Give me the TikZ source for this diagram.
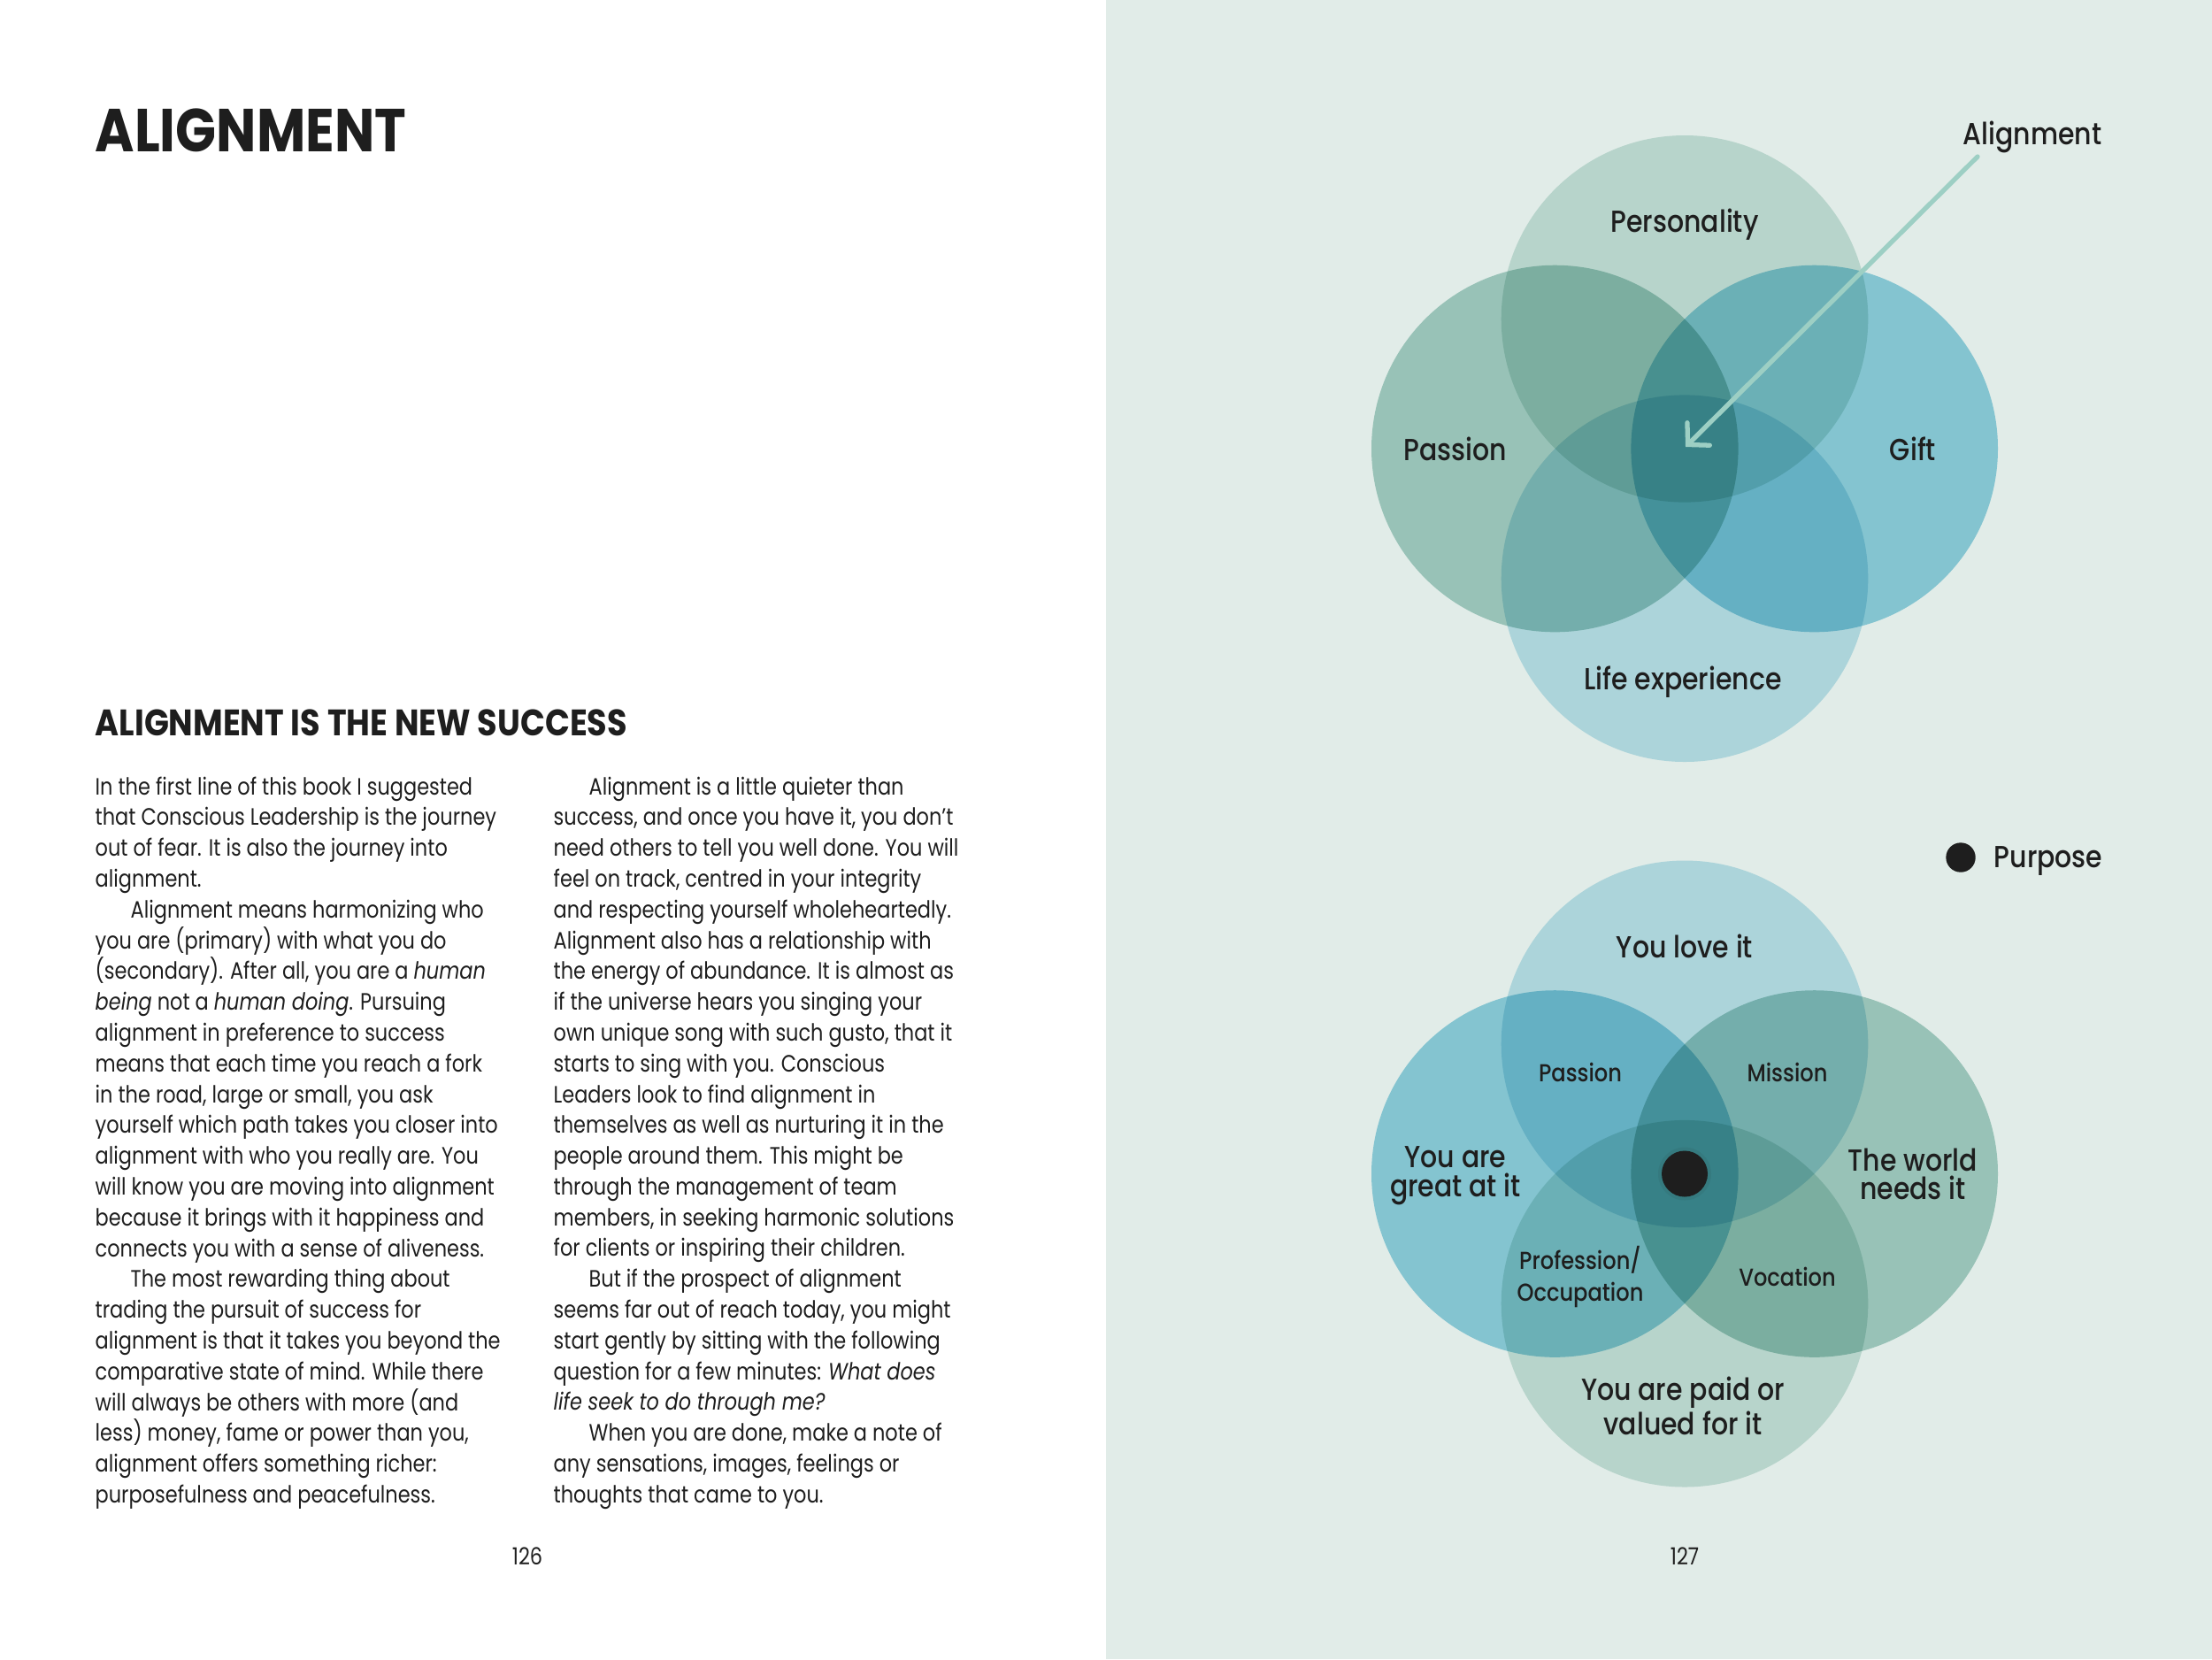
\documentclass[tikz,border=0pt]{standalone}
\usepackage{fontspec}
\setmainfont{Poppins}[FakeStretch=0.84]
\newfontfamily\headfont{Poppins}[FakeStretch=0.88]
\newfontfamily\labfont{Poppins Medium}[FakeStretch=0.87]
\usetikzlibrary{arrows.meta,calc,positioning}
\definecolor{pagebg}{HTML}{E1ECE8}
\definecolor{ink}{HTML}{1E1E1E}
\definecolor{sagelight}{HTML}{D0E6E0}
\definecolor{sage}{HTML}{ADD2CA}
\definecolor{teal}{HTML}{96D4E5}
\definecolor{skyblue}{HTML}{C4E6F0}
\definecolor{pointer}{HTML}{9DCFC4}

\begin{document}
\begin{tikzpicture}[
    y=-1cm,
    bodytext/.style={inner sep=0pt, align=left, text=ink, font=\fontsize{7.6}{9.9}\selectfont},
    label/.style={inner sep=0pt, align=center, text=ink, font=\labfont\fontsize{9.8}{9.3}\selectfont},
    smalllabel/.style={inner sep=0pt, align=center, text=ink, font=\labfont\fontsize{7.9}{10.4}\selectfont},
    ring/.style={radius=2.073cm},
    arrow/.style={-{Straight Barb[length=0.17cm, width=0.36cm, line cap=round]}, line width=1.5pt, line cap=round, draw=pointer}
]

\useasboundingbox (0,0) rectangle (25,18.75);
\fill[pagebg] (12.5,0) rectangle (25,18.75);

\node[anchor=base west, inner sep=0pt, text=ink, font=\headfont\bfseries\fontsize{19.5}{20}\selectfont] (title) at (1.07,1.71) {ALIGNMENT};
\node[anchor=base west, inner sep=0pt, text=ink, font=\headfont\bfseries\fontsize{11.85}{13}\selectfont] (subtitle) at (1.07,8.31) {ALIGNMENT IS THE NEW SUCCESS};

\node[bodytext, anchor=north west] (colone) at (1.07,8.77) {In the first line of this book I suggested\\
that Conscious Leadership is the journey\\
out of fear. It is also the journey into\\
alignment.\\
\hspace*{0.4cm}Alignment means harmonizing who\\
you are (primary) with what you do\\
(secondary). After all, you are a \textit{human}\\
\textit{being} not a \textit{human doing}. Pursuing\\
alignment in preference to success\\
means that each time you reach a fork\\
in the road, large or small, you ask\\
yourself which path takes you closer into\\
alignment with who you really are. You\\
will know you are moving into alignment\\
because it brings with it happiness and\\
connects you with a sense of aliveness.\\
\hspace*{0.4cm}The most rewarding thing about\\
trading the pursuit of success for\\
alignment is that it takes you beyond the\\
comparative state of mind. While there\\
will always be others with more (and\\
less) money, fame or power than you,\\
alignment offers something richer:\\
purposefulness and peacefulness.};

\node[bodytext, anchor=north west] (coltwo) at (6.25,8.77) {\hspace*{0.4cm}Alignment is a little quieter than\\
success, and once you have it, you don’t\\
need others to tell you well done. You will\\
feel on track, centred in your integrity\\
and respecting yourself wholeheartedly.\\
Alignment also has a relationship with\\
the energy of abundance. It is almost as\\
if the universe hears you singing your\\
own unique song with such gusto, that it\\
starts to sing with you. Conscious\\
Leaders look to find alignment in\\
themselves as well as nurturing it in the\\
people around them. This might be\\
through the management of team\\
members, in seeking harmonic solutions\\
for clients or inspiring their children.\\
\hspace*{0.4cm}But if the prospect of alignment\\
seems far out of reach today, you might\\
start gently by sitting with the following\\
question for a few minutes: \textit{What does}\\
\textit{life seek to do through me?}\\
\hspace*{0.4cm}When you are done, make a note of\\
any sensations, images, feelings or\\
thoughts that came to you.};

\node[bodytext] (pageleft) at (5.96,17.59) {126};
\node[bodytext] (pageright) at (19.04,17.59) {127};

\coordinate (upper) at (19.04,5.07);
\coordinate (lower) at (19.04,13.265);

\begin{scope}[blend mode=multiply]
\fill[sagelight] ($(upper)+(0,-1.467)$) circle[ring];
\fill[sage] ($(upper)+(-1.467,0)$) circle[ring];
\fill[teal] ($(upper)+(1.467,0)$) circle[ring];
\fill[skyblue] ($(upper)+(0,1.467)$) circle[ring];
\fill[skyblue] ($(lower)+(0,-1.467)$) circle[ring];
\fill[teal] ($(lower)+(-1.467,0)$) circle[ring];
\fill[sage] ($(lower)+(1.467,0)$) circle[ring];
\fill[sagelight] ($(lower)+(0,1.467)$) circle[ring];
\end{scope}

\node[label] (personality) at (19.04,2.54) {Personality};
\node[label] (passion) at (16.45,5.07) {Passion};
\node[label] (gift) at (21.62,5.07) {Gift};
\node[label] (life) at (19.02,7.71) {Life experience};
\node[label] (alignment) at (22.97,1.55) {Alignment};
\coordinate (pointerstart) at (22.35,1.77);
\draw[arrow] (pointerstart) -- ($(upper)+(0.01,-0.02)$);

\fill[ink] (22.16,9.69) circle[radius=0.167cm];
\node[label, anchor=west] (purpose) at (22.53,9.73) {Purpose};
\node[label] (loveit) at (19.04,10.69) {You love it};
\node[smalllabel] (passionsmall) at (17.86,12.12) {Passion};
\node[smalllabel] (mission) at (20.20,12.12) {Mission};
\node[label] (greatat) at (16.45,13.29) {You are\\great at it};
\node[label] (worldneeds) at (21.62,13.27) {The world\\needs it};
\node[smalllabel] (profession) at (17.86,14.43) {Profession/\\Occupation};
\node[smalllabel] (vocation) at (20.20,14.43) {Vocation};
\node[label] (paidfor) at (19.02,15.89) {You are paid or\\valued for it};
\fill[ink, opacity=0.07] (lower) circle[radius=0.30cm];
\fill[ink] (lower) circle[radius=0.26cm];

\end{tikzpicture}
\end{document}
